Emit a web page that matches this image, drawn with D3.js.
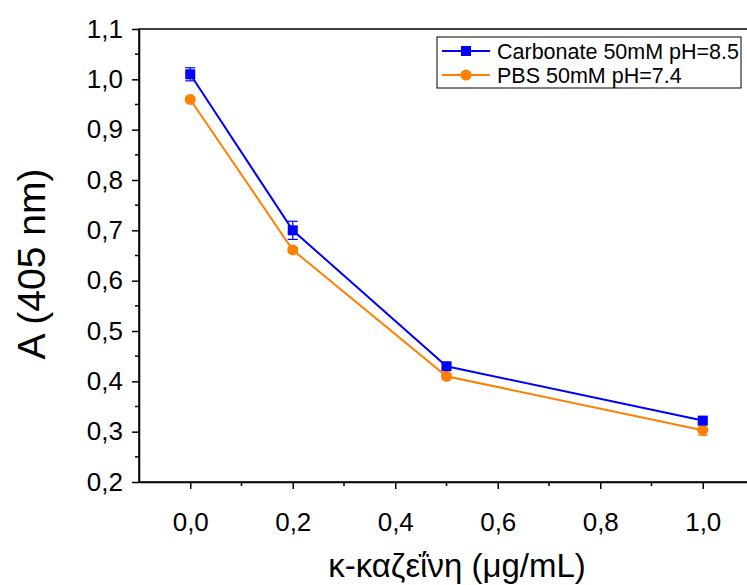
<!DOCTYPE html>
<html>
<head>
<meta charset="utf-8">
<script src="https://cdn.jsdelivr.net/npm/d3@7"></script>
<style>
  body { margin: 0; background: #fff; }
  svg { display: block; font-family: "Liberation Sans", Arial, sans-serif; }
</style>
</head>
<body>
<svg id="chart" width="747" height="585"></svg>
<script>
// data
const concentrations = [0.0, 0.2, 0.5, 1.0];
const carbonateValues = [1.01, 0.70, 0.43, 0.322];
const carbonateErrors = [0.013, 0.018, 0.004, 0.004];
const pbsValues = [0.96, 0.661, 0.41, 0.303];
const pbsErrors = [0.004, 0.005, 0.005, 0.010];
const xTicks = [0.0, 0.2, 0.4, 0.6, 0.8, 1.0];
const yTicks = [0.2, 0.3, 0.4, 0.5, 0.6, 0.7, 0.8, 0.9, 1.0, 1.1];
const seriesNames = ['Carbonate 50mM pH=8.5', 'PBS 50mM pH=7.4'];

const svg = d3.select('#chart');
const plotLeft = 139, plotTop = 29, plotRight = 754, plotBottom = 482;

const x = d3.scaleLinear().domain([-0.1, 1.1]).range([plotLeft, plotRight]);
const y = d3.scaleLinear().domain([0.2, 1.1]).range([plotBottom, plotTop]);
const fmt = d => d3.format('.1f')(d).replace('.', ',');

// frame
svg.append('rect')
    .attr('x', plotLeft).attr('y', plotTop)
    .attr('width', plotRight - plotLeft).attr('height', plotBottom - plotTop)
    .attr('fill', 'none').attr('stroke', '#000').attr('stroke-width', 1.5);

// y axis
const yAxis = svg.append('g').attr('transform', `translate(${plotLeft},0)`);
yAxis.call(d3.axisLeft(y).tickValues(yTicks).tickFormat(fmt).tickSize(7).tickSizeOuter(0))
    .call(g => g.attr('font-family', null))
    .call(g => g.select('.domain').attr('stroke-width', 1.5))
    .call(g => g.selectAll('.tick line').attr('stroke-width', 1.5))
    .call(g => g.selectAll('text').attr('font-size', 26).attr('fill', '#000').attr('x', -16));
yAxis.selectAll('.minor')
    .data(d3.range(0.25, 1.1, 0.1))
    .enter().append('line')
    .attr('class', 'minor')
    .attr('x1', 0).attr('x2', -4)
    .attr('y1', d => y(d)).attr('y2', d => y(d))
    .attr('stroke', '#000').attr('stroke-width', 1.5);

// x axis
const xAxis = svg.append('g').attr('transform', `translate(0,${plotBottom})`);
xAxis.call(d3.axisBottom(x).tickValues(xTicks).tickFormat(fmt).tickSize(7).tickSizeOuter(0))
    .call(g => g.attr('font-family', null))
    .call(g => g.select('.domain').attr('stroke-width', 1.5))
    .call(g => g.selectAll('.tick line').attr('stroke-width', 1.5))
    .call(g => g.selectAll('text').attr('font-size', 26).attr('fill', '#000').attr('y', 31));
xAxis.selectAll('.minor')
    .data([0.1, 0.3, 0.5, 0.7, 0.9])
    .enter().append('line')
    .attr('class', 'minor')
    .attr('y1', 0).attr('y2', 4)
    .attr('x1', d => x(d)).attr('x2', d => x(d))
    .attr('stroke', '#000').attr('stroke-width', 1.5);

// axis titles
svg.append('text')
    .attr('transform', 'translate(45,264) rotate(-90)')
    .attr('text-anchor', 'middle')
    .attr('font-size', 39)
    .text('A (405 nm)');

svg.append('text')
    .attr('x', 457).attr('y', 577)
    .attr('text-anchor', 'middle')
    .attr('font-size', 33)
    .text('κ-καζεΐνη (μg/mL)');

// series
const series = [
    { name: seriesNames[0], values: carbonateValues, errors: carbonateErrors, color: '#0000ff', shape: 'square' },
    { name: seriesNames[1], values: pbsValues, errors: pbsErrors, color: '#ff8000', shape: 'circle' }
];

const line = d3.line().x(d => x(d[0])).y(d => y(d[1]));

function drawMarker(g, shape, color) {
    if (shape === 'square') {
        g.append('rect').attr('x', -5).attr('y', -5).attr('width', 10).attr('height', 10).attr('fill', color);
    } else {
        g.append('circle').attr('r', 5.5).attr('fill', color);
    }
}

// draw PBS first so carbonate sits on top
[...series].reverse().forEach(s => {
    const pts = concentrations.map((c, i) => [c, s.values[i], s.errors[i]]);
    const g = svg.append('g');
    g.append('path')
        .attr('d', line(pts))
        .attr('fill', 'none')
        .attr('stroke', s.color)
        .attr('stroke-width', 2);

    const err = g.selectAll('.err').data(pts).enter().append('g').attr('class', 'err')
        .attr('stroke', s.color).attr('stroke-width', 1.2);
    err.append('line')
        .attr('x1', d => x(d[0])).attr('x2', d => x(d[0]))
        .attr('y1', d => y(d[1] + d[2])).attr('y2', d => y(d[1] - d[2]));
    err.append('line')
        .attr('x1', d => x(d[0]) - 5).attr('x2', d => x(d[0]) + 5)
        .attr('y1', d => y(d[1] + d[2])).attr('y2', d => y(d[1] + d[2]));
    err.append('line')
        .attr('x1', d => x(d[0]) - 5).attr('x2', d => x(d[0]) + 5)
        .attr('y1', d => y(d[1] - d[2])).attr('y2', d => y(d[1] - d[2]));

    g.selectAll('.mk').data(pts).enter().append('g').attr('class', 'mk')
        .attr('transform', d => `translate(${x(d[0])},${y(d[1])})`)
        .each(function () { drawMarker(d3.select(this), s.shape, s.color); });
});

// legend
const legend = svg.append('g').attr('transform', 'translate(437,37)');
legend.append('rect')
    .attr('width', 304).attr('height', 51)
    .attr('fill', '#fff').attr('stroke', '#000').attr('stroke-width', 1);
series.forEach((s, i) => {
    const row = legend.append('g').attr('transform', `translate(0,${14 + i * 24})`);
    row.append('line').attr('x1', 5).attr('x2', 53).attr('stroke', s.color).attr('stroke-width', 2);
    const m = row.append('g').attr('transform', 'translate(29,0)');
    drawMarker(m, s.shape, s.color);
    row.append('text')
        .attr('x', 60).attr('y', 7.5)
        .attr('font-size', 21.5)
        .text(s.name);
});
</script>
</body>
</html>
